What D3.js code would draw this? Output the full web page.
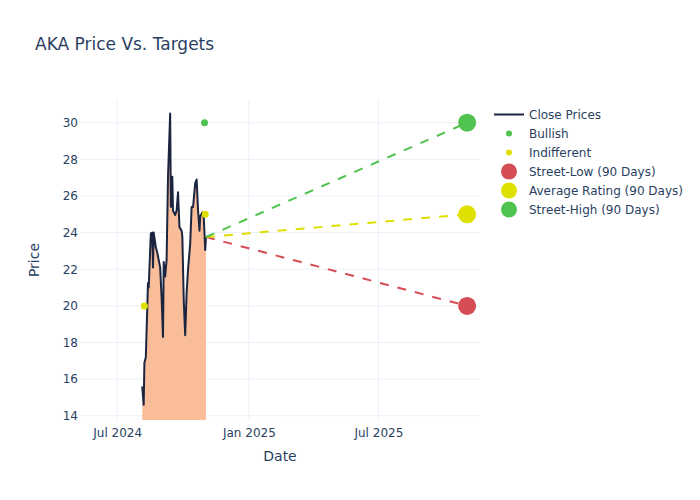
<!DOCTYPE html>
<html><head><meta charset="utf-8">
<script src="https://cdn.jsdelivr.net/npm/d3@7"></script>
<style>body{margin:0;background:#fff}svg{display:block}text{font-family:"DejaVu Sans",Verdana,sans-serif;fill:#2a3f5f}</style>
</head><body><svg id="c" width="700" height="500"></svg>
<script>
const closeDates = ["2024-08-05","2024-08-07","2024-08-08","2024-08-10","2024-08-13","2024-08-14","2024-08-17","2024-08-19","2024-08-20","2024-08-21","2024-08-24","2024-08-26","2024-08-30","2024-09-01","2024-09-03","2024-09-04","2024-09-06","2024-09-08","2024-09-10","2024-09-13","2024-09-14","2024-09-16","2024-09-17","2024-09-20","2024-09-22","2024-09-24","2024-09-26","2024-09-29","2024-09-30","2024-10-02","2024-10-04","2024-10-06","2024-10-08","2024-10-11","2024-10-13","2024-10-15","2024-10-18","2024-10-20","2024-10-22","2024-10-24","2024-10-25","2024-10-28","2024-10-30","2024-11-01","2024-11-02"];
const closePrices = [15.6,14.6,16.9,17.2,21.25,21.0,23.96,24.0,22.1,24.0,23.2,22.9,22.1,20.5,18.3,22.4,21.6,22.5,27.05,30.5,25.4,27.05,25.2,24.96,25.2,26.2,24.3,24.1,23.8,20.3,18.4,20.7,22.0,23.4,25.4,25.4,26.7,26.9,25.2,24.1,24.9,25.1,24.8,23.05,23.76];
const bullishDates = ["2024-10-31"];
const bullishValues = [30];
const indifferentDates = ["2024-08-08","2024-11-01"];
const indifferentValues = [20,25];
const targetNames = ["Street-Low (90 Days)","Average Rating (90 Days)","Street-High (90 Days)"];
const targetDate = "2025-11-02";
const targetValues = [20,25,30];
const targetColors = ["#d64c55","#e0e000","#4fc24f"];
const yTicks = [14,16,18,20,22,24,26,28,30];
const xTicks = ["2024-07-01","2025-01-01","2025-07-01"];
const xTickLabels = ["Jul 2024","Jan 2025","Jul 2025"];

const P = d3.timeParse("%Y-%m-%d");
const svg = d3.select("#c");
const L=80,R=480,T=100,B=420;
const x = d3.scaleTime().domain([P("2024-05-10"),P("2025-11-20")]).range([L,R]);
const y = d3.scaleLinear().domain([13.77,31.24]).range([B,T]);

svg.append("defs").append("clipPath").attr("id","clip").append("rect").attr("x",L).attr("y",T).attr("width",R-L).attr("height",B-T);

// grid
const g = svg.append("g");
g.selectAll(".yg").data(yTicks).join("line").attr("x1",L).attr("x2",R).attr("y1",d=>y(d)).attr("y2",d=>y(d)).attr("stroke","#ebf0f8").attr("stroke-width",1);
g.selectAll(".xg").data(xTicks).join("line").attr("x1",d=>x(P(d))).attr("x2",d=>x(P(d))).attr("y1",T).attr("y2",B).attr("stroke","#ebf0f8").attr("stroke-width",1);

// axes
const yAxis = d3.axisLeft(y).tickValues(yTicks).tickSize(0).tickPadding(2);
const ya = svg.append("g").attr("transform",`translate(${L},0)`).call(yAxis);
ya.select(".domain").remove();
ya.selectAll("text").attr("font-size",12).style("font-family","DejaVu Sans, sans-serif").attr("fill","#2a3f5f");
const xAxis = d3.axisBottom(x).tickValues(xTicks.map(P)).tickFormat((d,i)=>xTickLabels[i]).tickSize(0).tickPadding(8);
const xa = svg.append("g").attr("transform",`translate(0,${B})`).call(xAxis);
xa.select(".domain").remove();
xa.selectAll("text").attr("font-size",12).style("font-family","DejaVu Sans, sans-serif").attr("fill","#2a3f5f");

const plot = svg.append("g").attr("clip-path","url(#clip)");
const pts = closeDates.map((d,i)=>({d:P(d),v:closePrices[i]}));
plot.append("path").datum(pts).attr("d",d3.area().x(p=>x(p.d)).y0(B+5).y1(p=>y(p.v))).attr("fill","#fabd9a");
plot.append("path").datum(pts).attr("d",d3.line().x(p=>x(p.d)).y(p=>y(p.v))).attr("fill","none").attr("stroke","#1b2540").attr("stroke-width",2).attr("stroke-linejoin","round");

plot.selectAll(".bull").data(bullishDates).join("circle").attr("cx",d=>x(P(d))).attr("cy",(d,i)=>y(bullishValues[i])).attr("r",3.5).attr("fill","#4fc24f");
plot.selectAll(".ind").data(indifferentDates).join("circle").attr("cx",d=>x(P(d))).attr("cy",(d,i)=>y(indifferentValues[i])).attr("r",3.5).attr("fill","#e0e000");

const last = pts[pts.length-1];
targetValues.forEach((v,i)=>{
  plot.append("line").attr("x1",x(last.d)).attr("y1",y(last.v)).attr("x2",x(P(targetDate))).attr("y2",y(v)).attr("stroke",targetColors[i]).attr("stroke-width",2).attr("stroke-dasharray","9,9");
});
targetValues.forEach((v,i)=>{
  plot.append("circle").attr("cx",x(P(targetDate))).attr("cy",y(v)).attr("r",9).attr("fill",targetColors[i]);
});

// titles
svg.append("text").attr("x",35).attr("y",50).attr("font-size",17).text("AKA Price Vs. Targets");
svg.append("text").attr("x",(L+R)/2).attr("y",461).attr("text-anchor","middle").attr("font-size",14).text("Date");
svg.append("text").attr("transform",`translate(39,${(T+B)/2}) rotate(-90)`).attr("text-anchor","middle").attr("font-size",14).text("Price");

// legend
const lg = svg.append("g");
const items = [
 {n:"Close Prices",t:"line",c:"#1b2540"},
 {n:"Bullish",t:"s",c:"#4fc24f"},
 {n:"Indifferent",t:"s",c:"#e0e000"},
 {n:targetNames[0],t:"b",c:targetColors[0]},
 {n:targetNames[1],t:"b",c:targetColors[1]},
 {n:targetNames[2],t:"b",c:targetColors[2]}
];
items.forEach((it,i)=>{
  const yy = 114.5 + i*19;
  if(it.t==="line") lg.append("line").attr("x1",494).attr("x2",524).attr("y1",yy).attr("y2",yy).attr("stroke",it.c).attr("stroke-width",2);
  else lg.append("circle").attr("cx",509).attr("cy",yy).attr("r",it.t==="s"?3:8).attr("fill",it.c);
  lg.append("text").attr("x",529).attr("y",yy+4.5).attr("font-size",12).text(it.n);
});
</script></body></html>
